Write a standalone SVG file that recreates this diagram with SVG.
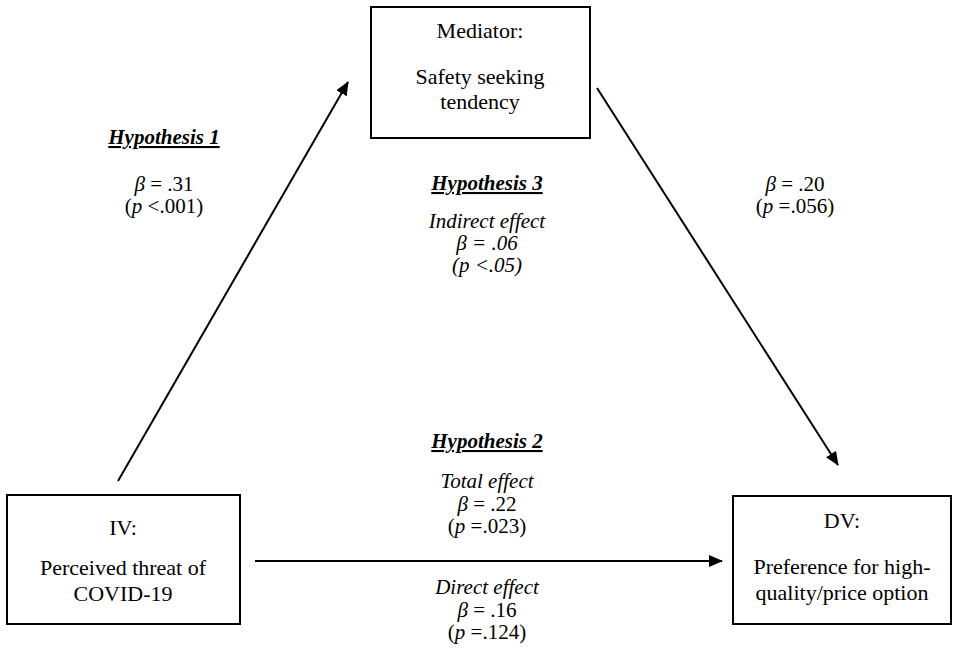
<svg xmlns="http://www.w3.org/2000/svg" width="960" height="650" viewBox="0 0 960 650">
<style>
.box{fill:#fff;stroke:#000;stroke-width:2}
text{font-family:'Liberation Serif','Times New Roman',serif;fill:#000;text-anchor:middle}
.bt{font-size:22px}
.t{font-size:21px}
.it{font-style:italic}
.hyp{font-style:italic;font-weight:bold;text-decoration:underline}
.conn{stroke:#000;stroke-width:2;fill:none;marker-end:url(#ah)}
</style>
<defs>
<marker id="ah" viewBox="0 0 14 12" refX="13" refY="6" markerWidth="14" markerHeight="12" markerUnits="userSpaceOnUse" orient="auto">
<path d="M0,0 L14,6 L0,12 Z" fill="#000"/>
</marker>
</defs>
<rect width="960" height="650" fill="#fff"/>
<g id="connectors">
<line class="conn" x1="118" y1="481" x2="348" y2="82"/>
<line class="conn" x1="597" y1="88" x2="838" y2="465"/>
<line class="conn" x1="255" y1="561" x2="722" y2="561"/>
</g>
<g id="mediator">
<rect class="box" x="371" y="7" width="219" height="131"/>
<text class="bt" x="480" y="38">Mediator:</text>
<text class="bt" x="480" y="84">Safety seeking</text>
<text class="bt" x="480" y="109">tendency</text>
</g>
<g id="iv">
<rect class="box" x="7" y="495" width="233" height="129"/>
<text class="bt" x="123" y="535">IV:</text>
<text class="bt" x="123" y="575">Perceived threat of</text>
<text class="bt" x="123" y="601">COVID-19</text>
</g>
<g id="dv">
<rect class="box" x="733" y="496" width="218" height="128"/>
<text class="bt" x="842" y="528">DV:</text>
<text class="bt" x="842" y="574">Preference for high-</text>
<text class="bt" x="842" y="600">quality/price option</text>
</g>
<g id="h1-label">
<text class="t hyp" x="164" y="144">Hypothesis 1</text>
<text class="t" x="164" y="191"><tspan class="it">β</tspan> = .31</text>
<text class="t" x="164" y="213">(<tspan class="it">p</tspan> &lt;.001)</text>
</g>
<g id="h3-label">
<text class="t hyp" x="487" y="190">Hypothesis 3</text>
<text class="t it" x="487" y="228">Indirect effect</text>
<text class="t it" x="487" y="250">β = .06</text>
<text class="t it" x="487" y="272">(p &lt;.05)</text>
</g>
<g id="b-label">
<text class="t" x="795" y="191"><tspan class="it">β</tspan> = .20</text>
<text class="t" x="795" y="213">(<tspan class="it">p</tspan> =.056)</text>
</g>
<g id="h2-label">
<text class="t hyp" x="487" y="448">Hypothesis 2</text>
<text class="t it" x="487" y="488">Total effect</text>
<text class="t" x="487" y="511"><tspan class="it">β</tspan> = .22</text>
<text class="t" x="487" y="533">(<tspan class="it">p</tspan> =.023)</text>
<text class="t it" x="487" y="594">Direct effect</text>
<text class="t" x="487" y="617"><tspan class="it">β</tspan> = .16</text>
<text class="t" x="487" y="639">(<tspan class="it">p</tspan> =.124)</text>
</g>
</svg>
